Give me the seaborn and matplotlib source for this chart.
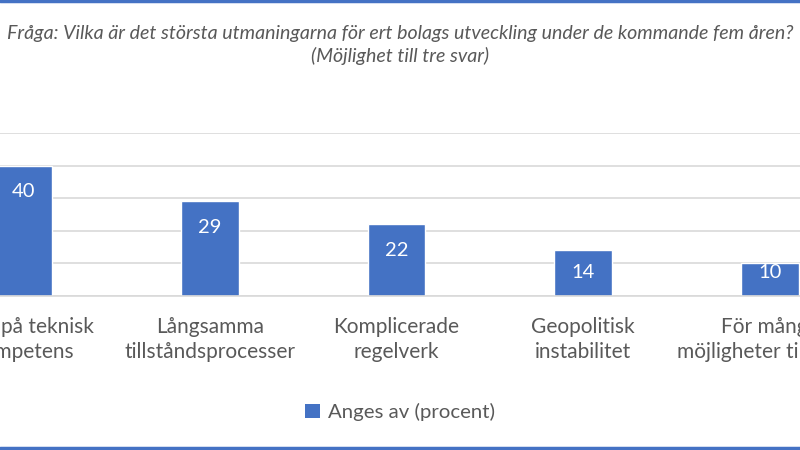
import matplotlib
matplotlib.use("Agg")
import matplotlib.pyplot as plt
import seaborn as sns
import pandas as pd
from matplotlib.lines import Line2D
from matplotlib.patches import Patch

categories = ["Brist på teknisk\nkompetens", "Långsamma\ntillståndsprocesser",
              "Komplicerade\nregelverk", "Geopolitisk\ninstabilitet",
              "För många\nmöjligheter till insyn"]
values = [40, 29, 22, 14, 10]
series_name = "Anges av (procent)"
title = "Fråga: Vilka är det största utmaningarna för ert bolags utveckling under de kommande fem åren?\n(Möjlighet till tre svar)"

sns.set_theme(style="white")
plt.rcParams['font.family'] = ['Lato', 'DejaVu Sans']

W, H = 800, 450
fig = plt.figure(figsize=(8, 4.5), dpi=100)
# axes extends beyond the figure (cropped chart)
left_px, right_px = -70, 863
top_px, bottom_px = 133, 296
ax = fig.add_axes([left_px / W, 1 - bottom_px / H, (right_px - left_px) / W, (bottom_px - top_px) / H])

df = pd.DataFrame({"cat": categories, "val": values})
sns.barplot(data=df, x="cat", y="val", color="#4472C4", width=0.31, ax=ax, saturation=1)
ax.set_xlim(-0.5, len(categories) - 0.5)
ax.set_ylim(0, 50)
ax.set_yticks([0, 10, 20, 30, 40, 50])
ax.yaxis.grid(True, color="#D9D9D9", linewidth=1.2)
ax.set_axisbelow(True)
for s in ["top", "left", "right"]:
    ax.spines[s].set_visible(False)
ax.spines["bottom"].set_color("#D9D9D9")
ax.spines["bottom"].set_linewidth(1.2)
ax.tick_params(axis="y", left=False, labelleft=False)
ax.tick_params(axis="x", bottom=False, pad=9, labelsize=15, labelcolor="#595959")
for lab in ax.get_xticklabels():
    lab.set_linespacing(1.35)
ax.set_xlabel("")
ax.set_ylabel("")

px_per_unit = (bottom_px - top_px) / 50
for i, v in enumerate(values):
    bar_px = v * px_per_unit
    off = min(26, bar_px - 24)
    ax.annotate(str(v), (i, v), xytext=(0, -off * 72 / 100), textcoords="offset points",
                ha="center", va="center", color="white", fontsize=14.5)

fig.text(0.5, 1 - 45 / H, title, ha="center", va="center", fontsize=14.1, style="italic",
         color="#595959", linespacing=1.28)

handles = [Patch(facecolor="#4472C4", edgecolor="none", label=series_name)]
fig.legend(handles=handles, loc="center", bbox_to_anchor=(0.5, 1 - 412 / H), frameon=False,
           fontsize=14.7, handlelength=0.7, handleheight=0.7, handletextpad=0.4,
           labelcolor="#595959")

# blue frame edges at top and bottom
fig.add_artist(Line2D([0, 1], [1 - 1 / H, 1 - 1 / H], color="#4472C4", linewidth=2.5,
                      transform=fig.transFigure))
fig.add_artist(Line2D([0, 1], [2 / H, 2 / H], color="#4472C4", linewidth=2.5,
                      transform=fig.transFigure))

fig.savefig("out.png", dpi=100)
